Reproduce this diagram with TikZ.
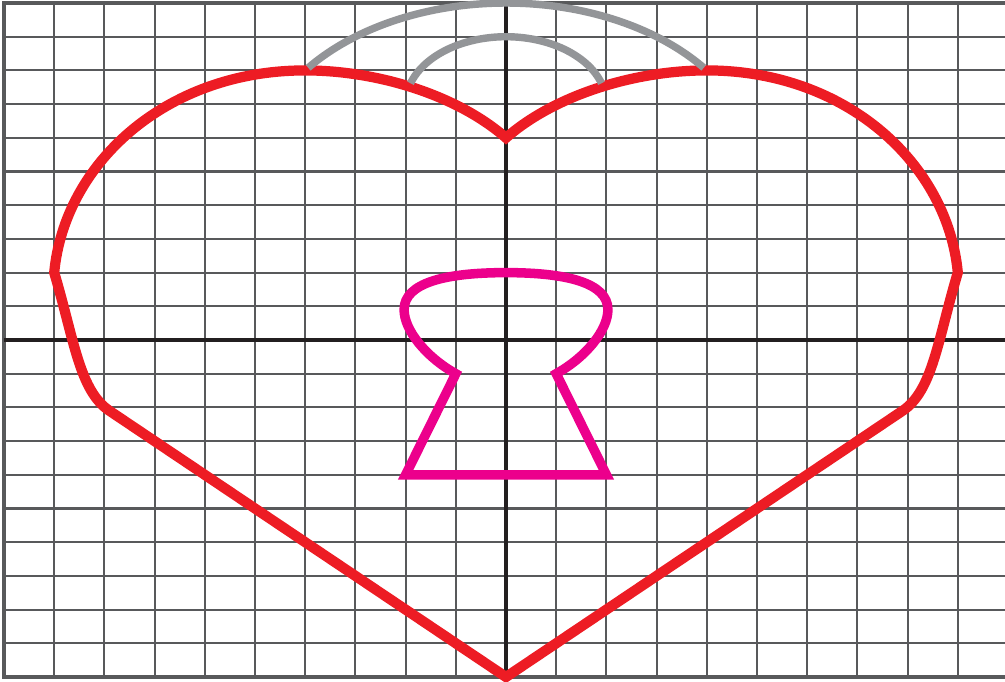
\documentclass[tikz,border=0pt]{standalone}
\usepackage{xcolor}
\usepackage{tikz}
\definecolor{hrtred}{RGB}{237,28,36}
\definecolor{keypink}{RGB}{236,0,140}
\definecolor{arcgray}{RGB}{147,149,152}
\definecolor{gridgray}{RGB}{88,89,91}
\definecolor{axisblack}{RGB}{35,31,32}
\begin{document}
\begin{tikzpicture}[x=1cm, y=0.6713cm,
  gridline/.style={draw=gridgray, line width=1.2pt},
  frameline/.style={draw=gridgray, line width=2.8pt},
  axisline/.style={draw=axisblack, line width=2.5pt},
  heartline/.style={draw=hrtred, line width=5.8pt, line join=miter, miter limit=4},
  arcline/.style={draw=arcgray, line width=4.2pt, line cap=butt},
  keyline/.style={draw=keypink, line width=5.4pt, line join=miter}
]
\useasboundingbox (-10.08,-10.12) rectangle (9.94,10.09);
% grid
\foreach \x in {-9,...,9}
  \draw[gridline] (\x,-10) -- (\x,10);
\foreach \y in {-9,...,9}
  \draw[gridline] (-10,\y) -- (10,\y);
\draw[frameline] (-10,-10) rectangle (10,10);
% axes
\draw[axisline] (-10,0) -- (10,0);
\draw[axisline] (0,-10) -- (0,10);
% heart
\draw[heartline] (0,-10) -- (-7.9,-2.1)
  .. controls (-8.5,-1.5) and (-8.6,0) .. (-9,2)
  .. controls (-8.8,5.2) and (-6.8,8) .. (-4,8)
  .. controls (-2.6,8) and (-1,7.3) .. (0,6)
  .. controls (1,7.3) and (2.6,8) .. (4,8)
  .. controls (6.8,8) and (8.8,5.2) .. (9,2)
  .. controls (8.6,0) and (8.5,-1.5) .. (7.9,-2.1) -- cycle;
% arcs
\draw[arcline] (0,5) ++(38:5) arc[start angle=38, end angle=142, radius=5];
\draw[arcline] (0,7) ++(18:2) arc[start angle=18, end angle=162, radius=2];
% keyhole
\draw[keyline] (0,-4) -- (-2,-4) -- (-1,-1)
  .. controls (-1.6,-0.5) and (-2.03,0.3) .. (-2.03,0.9)
  .. controls (-2.03,1.7) and (-1.2,2) .. (0,2)
  .. controls (1.2,2) and (2.03,1.7) .. (2.03,0.9)
  .. controls (2.03,0.3) and (1.6,-0.5) .. (1,-1)
  -- (2,-4) -- cycle;
\end{tikzpicture}
\end{document}
